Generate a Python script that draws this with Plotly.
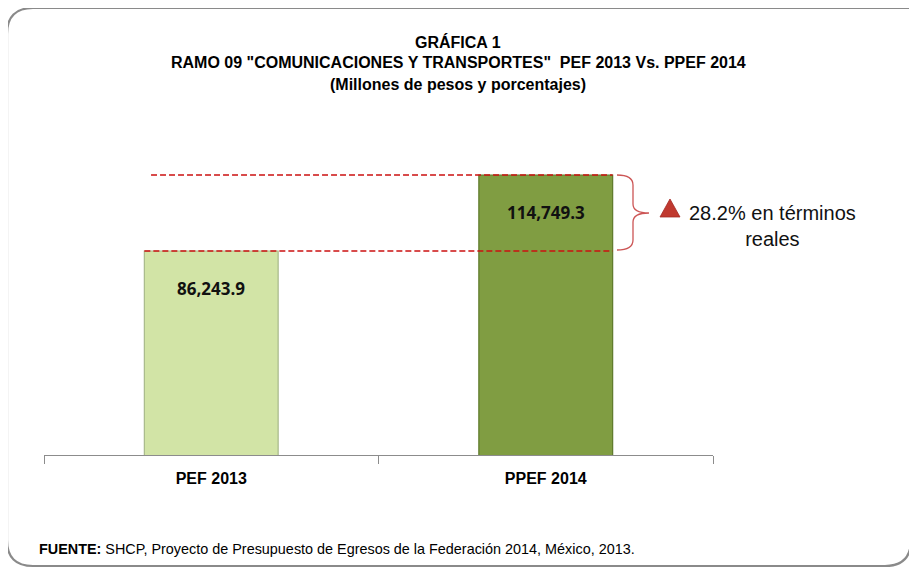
import plotly.graph_objects as go

categories = ["PEF 2013", "PPEF 2014"]
values = [86243.9, 114749.3]
value_labels = ["86,243.9", "114,749.3"]
bar_colors = ["#d2e4a6", "#809d42"]
edge_colors = ["#a8b98a", "#5e7a2a"]
change_text = "28.2% en términos<br>reales"
source_text = "<b>FUENTE:</b> SHCP, Proyecto de Presupuesto de Egresos de la Federación 2014, México, 2013."
title_lines = ["GRÁFICA 1",
               'RAMO 09 "COMUNICACIONES Y TRANSPORTES"  PEF 2013 Vs. PPEF 2014',
               "(Millones de pesos y porcentajes)"]

W, H = 917, 572
OFF = 8  # page body margin
SL, SR, ST, SB = 44, 713, 120, 455
L, R, T, B = SL - OFF, SR - OFF, ST - OFF, SB - OFF


def px(x):
    return (x - SL) / (SR - SL)


def py(y):
    return (SB - y) / (SB - ST)


def P(x, y):
    return f"{px(x):.5f},{py(y):.5f}"


FONT = "Liberation Sans, Arial, sans-serif"
VFONT = "Open Sans, sans-serif"

fig = go.Figure()
fig.add_trace(go.Bar(
    x=categories, y=values, width=0.4,
    marker=dict(color=bar_colors, line=dict(color=edge_colors, width=1.2)),
    hoverinfo="skip", showlegend=False,
))

shapes = []
shapes.append(dict(type="line", xref="x", yref="y", x0=-0.18, x1=1.2, y0=values[1], y1=values[1],
                   line=dict(color="#cc1111", width=1.4, dash="6px,3px")))
shapes.append(dict(type="line", xref="x", yref="y", x0=-0.2, x1=1.2, y0=values[0], y1=values[0],
                   line=dict(color="#cc1111", width=1.4, dash="6px,3px")))

brace = (f"M {P(617,175)} Q {P(633,175)} {P(633,185)} L {P(633,204)} "
         f"Q {P(633,213)} {P(649,213)} Q {P(633,213)} {P(633,222)} "
         f"L {P(633,240)} Q {P(633,250)} {P(617,250)}")
shapes.append(dict(type="path", xref="paper", yref="paper", path=brace,
                   line=dict(color="#cc5555", width=1.3)))

tri = f"M {P(660,217)} L {P(680,217)} L {P(670,199)} Z"
shapes.append(dict(type="path", xref="paper", yref="paper", path=tri,
                   fillcolor="#c0392f", line=dict(color="#a52a25", width=0.8)))

r = 26
x0b, y0b, x1b, y1b = 7, 8, 911, 566
border = (f"M {P(x0b + r, y0b)} L {P(x1b, y0b)} L {P(x1b, y1b - r)} "
          f"Q {P(x1b, y1b)} {P(x1b - r, y1b)} L {P(x0b + r, y1b)} "
          f"Q {P(x0b, y1b)} {P(x0b, y1b - r)} L {P(x0b, y0b + r)} "
          f"Q {P(x0b, y0b)} {P(x0b + r, y0b)} Z")
shapes.append(dict(type="path", xref="paper", yref="paper", path=border,
                   line=dict(color="#8a8a8a", width=2.2), layer="below"))

annotations = []
for txt, yy in zip(title_lines, [42, 63, 84]):
    annotations.append(dict(text=f"<b>{txt}</b>", xref="paper", yref="paper", x=px(458), y=py(yy),
                            xanchor="center", yanchor="middle", showarrow=False,
                            font=dict(family=FONT, size=16, color="#000000")))

for c, v, t in zip(categories, values, value_labels):
    annotations.append(dict(text=f"<b>{t}</b>", x=c, y=v, xref="x", yref="y", yshift=-37,
                            xanchor="center", yanchor="middle", showarrow=False,
                            font=dict(family=VFONT, size=17, color="#111111")))

annotations.append(dict(text=change_text, xref="paper", yref="paper", x=px(772), y=py(226),
                        xanchor="center", yanchor="middle", align="center", showarrow=False,
                        font=dict(family=FONT, size=20, color="#111111")))
annotations.append(dict(text=source_text, xref="paper", yref="paper", x=px(37), y=py(549),
                        xanchor="left", yanchor="middle", showarrow=False,
                        font=dict(family=FONT, size=14.4, color="#000000")))

scale = ((SB - 175) - (SB - 251)) / (values[1] - values[0])
y0 = values[0] - (SB - 251) / scale
y1 = y0 + (SB - ST) / scale

fig.update_layout(
    width=W, height=H,
    margin=dict(l=L, r=W - R, t=T, b=H - B, pad=0),
    paper_bgcolor="white", plot_bgcolor="white",
    shapes=shapes, annotations=annotations,
    xaxis=dict(type="category", range=[-0.5, 1.5], showline=True, linecolor="#8c8c8c", linewidth=1.3,
               ticks="outside", tickson="boundaries", ticklen=8, tickcolor="#8c8c8c", tickwidth=1.3,
               ticklabelstandoff=9,
               showgrid=False, zeroline=False,
               tickfont=dict(family=FONT, size=16, color="#000000"),
               tickprefix="<b>", ticksuffix="</b>"),
    yaxis=dict(range=[y0, y1], visible=False, showgrid=False, zeroline=False),
    font=dict(family=FONT),
)

fig.write_html("out.html")
